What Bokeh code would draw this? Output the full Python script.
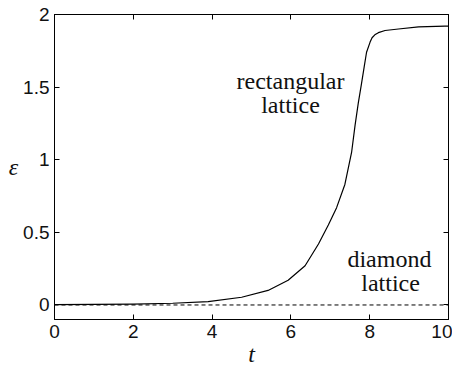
from bokeh.plotting import figure
from bokeh.models import Range1d, LinearAxis, FixedTicker, Label
from bokeh.embed import file_html
from bokeh.resources import INLINE

# data
t_rect = [0, 1, 2, 3, 3.9, 4.75, 5.42, 5.93, 6.36, 6.70, 6.95, 7.16, 7.37, 7.54, 7.63, 7.71,
          7.79, 7.86, 7.92, 8.01, 8.06, 8.13, 8.22, 8.39, 8.73, 9.24, 9.91, 10]
eps_rect = [0.003, 0.004, 0.006, 0.012, 0.023, 0.053, 0.10, 0.17, 0.27, 0.42, 0.55, 0.67, 0.83,
            1.05, 1.24, 1.39, 1.52, 1.64, 1.74, 1.81, 1.84, 1.86, 1.875, 1.89, 1.90, 1.915, 1.92, 1.92]
t_diam = [0, 10]
eps_diam = [0, 0]
x_ticks = [0, 2, 4, 6, 8, 10]
x_tick_labels = ["0", "2", "4", "6", "8", "10"]
y_ticks = [0, 0.5, 1, 1.5, 2]
y_tick_labels = ["0", "0.5", "1", "1.5", "2"]
annotations = [("rectangular", 5.99, 1.545), ("lattice", 5.99, 1.38),
               ("diamond", 8.50, 0.317), ("lattice", 8.53, 0.152)]

p = figure(frame_width=394, frame_height=305, output_backend="svg", toolbar_location=None,
           x_range=Range1d(0, 10), y_range=Range1d(-0.1, 2),
           min_border_left=54, min_border_right=4, min_border_top=14, min_border_bottom=36)
p.background_fill_color = "white"
p.border_fill_color = "white"
p.outline_line_color = "black"
p.grid.visible = False

p.line(t_rect, eps_rect, line_color="black", line_width=1.2, line_join="round")
p.line(t_diam, eps_diam, line_color="black", line_width=1, line_dash="4 3")

sans = "Liberation Sans"
serif = "Liberation Serif"

def style(ax, ticks, labels, show):
    ax.ticker = FixedTicker(ticks=ticks)
    ax.major_tick_in = 5
    ax.major_tick_out = 0
    ax.minor_tick_in = 0
    ax.minor_tick_out = 0
    ax.axis_line_color = "black"
    ax.major_tick_line_color = "black"
    ax.major_label_text_font = sans
    ax.major_label_text_font_size = "19px"
    ax.major_label_text_color = "#111111"
    if show:
        ax.major_label_overrides = {tk: lb for tk, lb in zip(ticks, labels)}
        ax.major_label_standoff = 5
    else:
        ax.major_label_overrides = {tk: "" for tk in ticks}
        ax.major_label_standoff = 0

style(p.xaxis[0], x_ticks, x_tick_labels, True)
style(p.yaxis[0], y_ticks, y_tick_labels, True)
p.xaxis[0].axis_label = "t"
p.yaxis[0].axis_label = "ε"
for ax in (p.xaxis[0], p.yaxis[0]):
    ax.axis_label_text_font = serif
    ax.axis_label_text_font_style = "italic"
    ax.axis_label_text_font_size = "24px"
    ax.axis_label_text_color = "#111111"
p.xaxis[0].axis_label_standoff = 0
p.yaxis[0].axis_label_standoff = 2
p.yaxis[0].major_label_orientation = "horizontal"
p.yaxis[0].axis_label_orientation = "horizontal"

top = LinearAxis()
right = LinearAxis()
style(top, x_ticks, x_tick_labels, False)
style(right, y_ticks, y_tick_labels, False)
p.add_layout(top, "above")
p.add_layout(right, "right")

for txt, x, y in annotations:
    p.add_layout(Label(x=x, y=y, text=txt, text_font=serif, text_font_size="24px",
                       text_align="center", text_baseline="middle", text_color="#111111"))

open("out.html", "w").write(file_html(p, INLINE))
